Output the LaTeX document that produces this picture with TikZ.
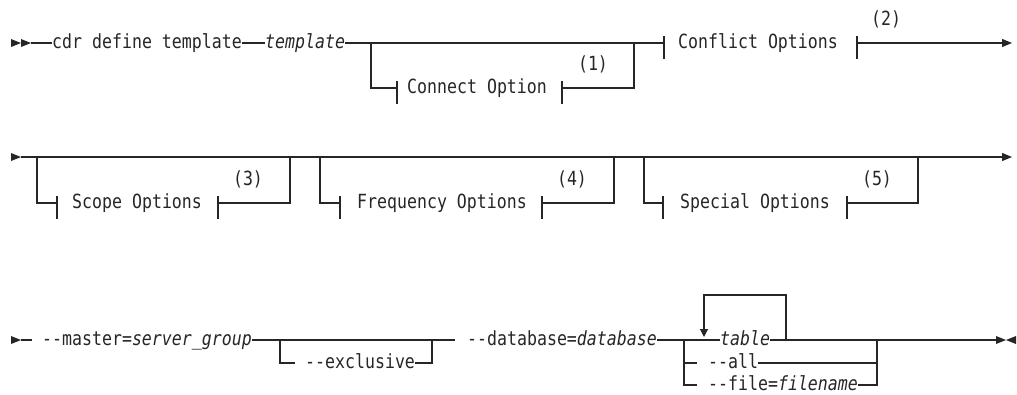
\documentclass[tikz,border=0pt]{standalone}
\usepackage{fontspec}
\usetikzlibrary{arrows.meta}
\newfontfamily\rrfont{DejaVu Sans Mono}[FakeStretch=0.85]

\begin{document}
\begin{tikzpicture}[
  x=1pt, y=-1pt,
  rail/.style={line width=1.2pt, draw=black!85},
  word/.style={font=\rrfont\fontsize{19.5}{21}\selectfont, text=black!85, inner sep=0pt,
               text height=14pt, text depth=3pt, anchor=west},
  railnote/.style={word, anchor=center},
  endarrow/.style={-{Triangle[length=10pt, width=8pt]}},
  backtip/.style={-{Triangle[length=8pt, width=8pt]}}
]
  \useasboundingbox (0,0) rectangle (1017,394);

  % Zeile 1
  \foreach \x in {11,21} {
    \fill[black!85] (\x,39) -- ++(10,4) -- ++(-10,4) -- cycle;
  }
  \coordinate (s1) at (31,43);
  \coordinate (b1) at (371,43);
  \coordinate (j1) at (634,43);
  \coordinate (k1) at (664,43);
  \coordinate (k2) at (857,43);
  \coordinate (e1) at (1012,43);
  \coordinate (cl) at (397,88);
  \coordinate (cr) at (562,88);

  \node[word] (cmd) at (52,43) {cdr define template};
  \node[word] (tpl) at (265,43) {\itshape template};
  \node[word] (connect) at (407,88) {Connect Option};
  \node[word] (conflict) at (678,43) {Conflict Options};
  \node[railnote] (n1) at (593,65) {(1)};
  \node[railnote] (n2) at (886,20) {(2)};

  \draw[rail] (s1) -- (cmd.west);
  \draw[rail] (cmd.east) -- (tpl.west);
  \draw[rail] (tpl.east) -- (k1);
  \draw[rail] (b1) |- (cl);
  \draw[rail] (cr) -| (j1);
  \draw[rail, endarrow] (k2) -- (e1);
  \foreach \t in {cl,cr,k1,k2} {
    \draw[rail] (\t) ++(0,-7) -- ++(0,23);
  }

  % Zeile 2
  \fill[black!85] (11,153) -- ++(10,4) -- ++(-10,4) -- cycle;
  \coordinate (s2) at (21,157);
  \coordinate (e2) at (1012,157);
  \draw[rail, endarrow] (s2) -- (e2);
  \foreach \i/\txt/\xa/\xb/\xc/\xd/\xt in {3/Scope Options/37/57/218/290/72,
      4/Frequency Options/320/340/542/614/357,
      5/Special Options/644/663/847/918/680} {
    \coordinate (sp\i) at (\xa,157);
    \coordinate (tl\i) at (\xb,203);
    \coordinate (tr\i) at (\xc,203);
    \coordinate (jn\i) at (\xd,157);
    \node[word] (opt\i) at (\xt,203) {\txt};
    \node[railnote] (n\i) at (\xc+30,180) {(\i)};
    \draw[rail] (sp\i) |- (tl\i);
    \draw[rail] (tr\i) -| (jn\i);
    \draw[rail] (tl\i) ++(0,-7) -- ++(0,23);
    \draw[rail] (tr\i) ++(0,-7) -- ++(0,23);
  }

  % Zeile 3
  \fill[black!85] (11,336) -- ++(10,4) -- ++(-10,4) -- cycle;
  \coordinate (s3) at (21,340);
  \coordinate (s3b) at (32,340);
  \coordinate (g1) at (455,340);
  \coordinate (x1) at (280,340);
  \coordinate (x2) at (295,363);
  \coordinate (x3) at (432,340);
  \coordinate (x4) at (684,340);
  \coordinate (a1) at (697,363);
  \coordinate (f1) at (697,385);
  \coordinate (x5) at (877,340);
  \coordinate (l1) at (786,340);
  \coordinate (l2) at (704,295);
  \coordinate (l3) at (704,337);
  \coordinate (e3) at (996,340);

  \node[word] (master) at (42,340) {--master=\textit{server\_group}};
  \node[word] (excl) at (305,363) {--exclusive};
  \node[word] (dbase) at (467,340) {--database=\textit{database}};
  \node[word] (tbl) at (720,340) {\itshape table};
  \node[word] (all) at (708,363) {--all};
  \node[word] (file) at (708,385) {--file=\textit{filename}};

  \draw[rail] (s3) -- (s3b);
  \draw[rail] (master.east) -- (g1);
  \draw[rail] (x1) |- (x2);
  \draw[rail] (excl.east) -| (x3);
  \draw[rail] (dbase.east) -- (tbl.west);
  \draw[rail] (x4) |- (a1);
  \draw[rail] (x4) |- (f1);
  \draw[rail] (tbl.east) -- (x5);
  \draw[rail] (all.east) -| (x5);
  \draw[rail] (file.east) -| (x5);
  \draw[rail, backtip] (l1) |- (l2) -- (l3);
  \draw[rail] (x5) -- (e3);
  \fill[black!85] (996,336) -- (1006,340) -- (996,344) -- cycle;
  \fill[black!85] (1016,336) -- (1006,340) -- (1016,344) -- cycle;
\end{tikzpicture}
\end{document}
